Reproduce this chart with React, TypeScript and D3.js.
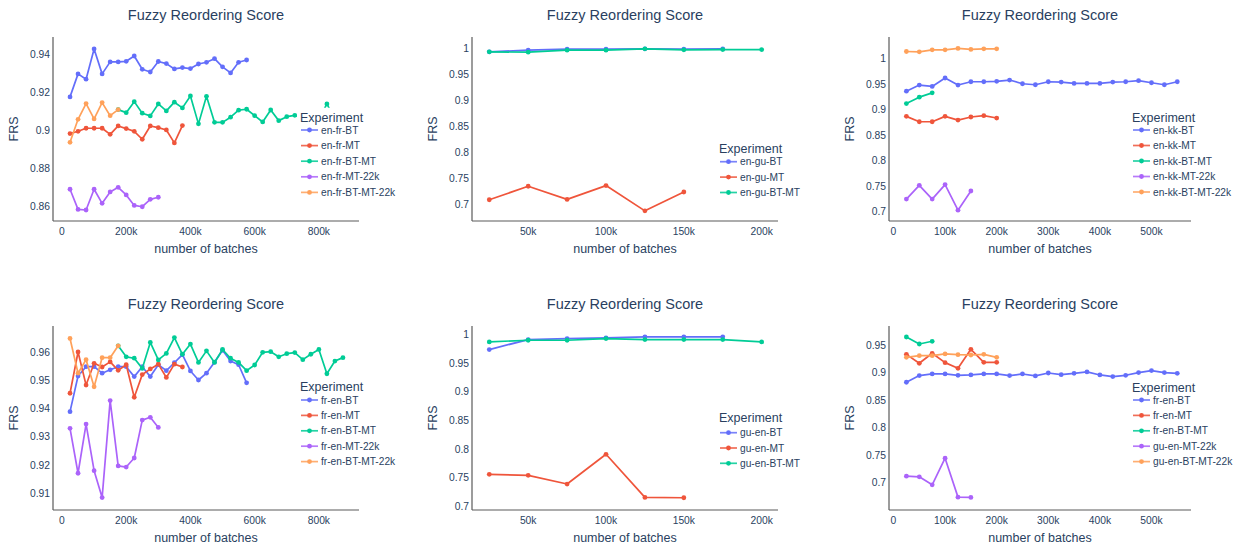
import React from "react";
import * as d3 from "d3";

// ---------- data ----------
const batches = [25000, 50000, 75000, 100000, 125000, 150000, 175000, 200000, 225000, 250000, 275000, 300000, 325000, 350000, 375000, 400000, 425000, 450000, 475000, 500000, 525000, 550000, 575000, 600000, 625000, 650000, 675000, 700000, 725000, 750000, 775000, 800000, 825000, 850000, 875000];

// panel 1 (en-fr)
const enFrBT = [0.9174, 0.9295, 0.9267, 0.9426, 0.9295, 0.9358, 0.9358, 0.9361, 0.9389, 0.9319, 0.9305, 0.936, 0.9349, 0.9321, 0.9328, 0.9323, 0.9347, 0.9356, 0.9375, 0.9332, 0.93, 0.9356, 0.9368];
const enFrMT = [0.8981, 0.8993, 0.9009, 0.9009, 0.9009, 0.8977, 0.9021, 0.9007, 0.8993, 0.8951, 0.9021, 0.9012, 0.9, 0.8932, 0.9023];
const enFrBTMT = [0.9107, 0.9091, 0.9149, 0.9088, 0.9074, 0.9137, 0.91, 0.9146, 0.9116, 0.9179, 0.9032, 0.9177, 0.904, 0.904, 0.9067, 0.9104, 0.9109, 0.9075, 0.9042, 0.9105, 0.9049, 0.907, 0.9077, 0.906, 0.9085, 0.9055, 0.9137, 0.9055, 0.908];
const enFrMT22k = [0.8688, 0.8582, 0.8579, 0.8688, 0.8614, 0.8674, 0.8698, 0.8658, 0.8603, 0.8596, 0.8635, 0.8646];
const enFrBTMT22k = [0.8935, 0.9056, 0.9139, 0.9058, 0.9144, 0.9075, 0.9107];

// panel 2 (en-gu)
const enGuBT = [0.9935, 0.9968, 0.9987, 0.9987, 0.9994, 0.9987, 0.9994];
const enGuMT = [0.7092, 0.7351, 0.7098, 0.7364, 0.6878, 0.7241];
const enGuBTMT = [0.9935, 0.9929, 0.9968, 0.9968, 0.9994, 0.9974, 0.998, 0.998];

// panel 3 (en-kk)
const enKkBT = [0.936, 0.948, 0.9453, 0.9618, 0.948, 0.9545, 0.9545, 0.9552, 0.9578, 0.9505, 0.9486, 0.9545, 0.9538, 0.9512, 0.9512, 0.9512, 0.9538, 0.9545, 0.9565, 0.9525, 0.9486, 0.9545];
const enKkMT = [0.8866, 0.876, 0.876, 0.8866, 0.8793, 0.8853, 0.8879, 0.8833];
const enKkBTMT = [0.9117, 0.9242, 0.9327];
const enKkMT22k = [0.7244, 0.7514, 0.7244, 0.7528, 0.7026, 0.7402];
const enKkBTMT22k = [1.0138, 1.0132, 1.0171, 1.0171, 1.0198, 1.0178, 1.0191, 1.0191];

// panel 4 (fr-en)
const frEnBT = [0.9389, 0.9515, 0.9548, 0.9548, 0.9525, 0.9537, 0.9548, 0.9548, 0.9513, 0.9548, 0.9513, 0.9555, 0.9534, 0.9562, 0.9591, 0.9533, 0.9501, 0.9525, 0.9564, 0.9606, 0.9568, 0.9555, 0.9491];
const frEnMT = [0.9454, 0.96, 0.9483, 0.956, 0.9547, 0.9565, 0.9535, 0.9555, 0.944, 0.952, 0.954, 0.9557, 0.951, 0.9557, 0.9547];
const frEnBTMT = [0.9622, 0.9583, 0.9578, 0.9542, 0.9634, 0.9572, 0.9595, 0.9651, 0.9592, 0.9628, 0.9563, 0.9604, 0.9563, 0.9609, 0.9578, 0.9563, 0.9534, 0.9554, 0.9599, 0.9601, 0.9583, 0.9594, 0.9598, 0.9573, 0.9592, 0.9609, 0.9523, 0.9568, 0.958];
const frEnMT22k = [0.933, 0.9171, 0.9345, 0.918, 0.9085, 0.9428, 0.9197, 0.9193, 0.9225, 0.9359, 0.9369, 0.9333];
const frEnBTMT22k = [0.9648, 0.9525, 0.9573, 0.9477, 0.958, 0.958, 0.9622];

// panel 5 (gu-en)
const guEnBT = [0.9737, 0.9912, 0.993, 0.9942, 0.9959, 0.9959, 0.9959];
const guEnMT = [0.7556, 0.7538, 0.7386, 0.7906, 0.7152, 0.7146];
const guEnBTMT = [0.9871, 0.99, 0.99, 0.993, 0.9912, 0.9912, 0.9912, 0.9871];

// panel 6 (mixed)
const frEnBT6 = [0.8822, 0.8943, 0.8973, 0.8973, 0.8949, 0.8955, 0.8973, 0.8973, 0.8943, 0.8973, 0.8937, 0.8991, 0.8961, 0.8985, 0.901, 0.8955, 0.8925, 0.8949, 0.8998, 0.9034, 0.8998, 0.8985];
const frEnMT6 = [0.933, 0.9167, 0.9349, 0.9179, 0.9076, 0.9421, 0.9185, 0.9185];
const frEnBTMT6 = [0.9645, 0.9518, 0.9567];
const guEnMT22k = [0.7115, 0.7103, 0.6958, 0.7442, 0.6734, 0.6728];
const guEnBTMT22k = [0.9276, 0.9306, 0.9306, 0.9337, 0.9324, 0.9318, 0.933, 0.9276];

// tick values
const yTicksA = [0.86, 0.88, 0.9, 0.92, 0.94];
const yTicksB = [0.7, 0.75, 0.8, 0.85, 0.9, 0.95, 1];
const yTicksD = [0.91, 0.92, 0.93, 0.94, 0.95, 0.96];
const yTicksF = [0.7, 0.75, 0.8, 0.85, 0.9, 0.95];
const xTicksA = [0, 200000, 400000, 600000, 800000];
const xTicksB = [50000, 100000, 150000, 200000];
const xTicksC = [0, 100000, 200000, 300000, 400000, 500000];

const COLORS = ["#636efa", "#ef553b", "#00cc96", "#ab63fa", "#ffa15a"];

type Series = { name: string; start: number; values: number[]; color: string };

const mk = (name: string, values: number[], color: string, start = 0): Series => ({ name, values, color, start });

const panels = [
  {
    left: 53, right: 359, top: 37, bottom: 221,
    xDom: [-28000, 925000], yDom: [0.8521, 0.9489], xTicks: xTicksA, yTicks: yTicksA,
    leg: { x: 301, title: 117.7, item0: 130, step: 15.6 },
    series: [
      mk("en-fr-BT", enFrBT, COLORS[0]),
      mk("en-fr-MT", enFrMT, COLORS[1]),
      mk("en-fr-BT-MT", enFrBTMT, COLORS[2], 6),
      mk("en-fr-MT-22k", enFrMT22k, COLORS[3]),
      mk("en-fr-BT-MT-22k", enFrBTMT22k, COLORS[4]),
    ],
  },
  {
    left: 472, right: 778, top: 37, bottom: 221,
    xDom: [13900, 210500], yDom: [0.6683, 1.0221], xTicks: xTicksB, yTicks: yTicksB,
    leg: { x: 720, title: 148.3, item0: 161.7, step: 15.4 },
    series: [
      mk("en-gu-BT", enGuBT, COLORS[0]),
      mk("en-gu-MT", enGuMT, COLORS[1]),
      mk("en-gu-BT-MT", enGuBTMT, COLORS[2]),
    ],
  },
  {
    left: 889, right: 1191, top: 37, bottom: 221,
    xDom: [-8700, 576600], yDom: [0.6814, 1.0422], xTicks: xTicksC, yTicks: yTicksB,
    leg: { x: 1133, title: 118, item0: 130, step: 15.5 },
    series: [
      mk("en-kk-BT", enKkBT, COLORS[0]),
      mk("en-kk-MT", enKkMT, COLORS[1]),
      mk("en-kk-BT-MT", enKkBTMT, COLORS[2]),
      mk("en-kk-MT-22k", enKkMT22k, COLORS[3]),
      mk("en-kk-BT-MT-22k", enKkBTMT22k, COLORS[4]),
    ],
  },
  {
    left: 53, right: 359, top: 326, bottom: 510,
    xDom: [-28000, 925000], yDom: [0.9041, 0.9692], xTicks: xTicksA, yTicks: yTicksD,
    leg: { x: 301, title: 387, item0: 400, step: 15.4 },
    series: [
      mk("fr-en-BT", frEnBT, COLORS[0]),
      mk("fr-en-MT", frEnMT, COLORS[1]),
      mk("fr-en-BT-MT", frEnBTMT, COLORS[2], 6),
      mk("fr-en-MT-22k", frEnMT22k, COLORS[3]),
      mk("fr-en-BT-MT-22k", frEnBTMT22k, COLORS[4]),
    ],
  },
  {
    left: 472, right: 778, top: 326, bottom: 510,
    xDom: [13900, 210500], yDom: [0.6932, 1.0149], xTicks: xTicksB, yTicks: yTicksB,
    leg: { x: 720, title: 417.7, item0: 432.7, step: 15.3 },
    series: [
      mk("gu-en-BT", guEnBT, COLORS[0]),
      mk("gu-en-MT", guEnMT, COLORS[1]),
      mk("gu-en-BT-MT", guEnBTMT, COLORS[2]),
    ],
  },
  {
    left: 889, right: 1191, top: 326, bottom: 510,
    xDom: [-8700, 576600], yDom: [0.65, 0.9845], xTicks: xTicksC, yTicks: yTicksF,
    leg: { x: 1133, title: 387.7, item0: 400, step: 15.4 },
    series: [
      mk("fr-en-BT", frEnBT6, COLORS[0]),
      mk("fr-en-MT", frEnMT6, COLORS[1]),
      mk("fr-en-BT-MT", frEnBTMT6, COLORS[2]),
      mk("gu-en-MT-22k", guEnMT22k, COLORS[3]),
      mk("gu-en-BT-MT-22k", guEnBTMT22k, COLORS[4]),
    ],
  },
];

const FONT = '"Liberation Sans", Arial, sans-serif';
const TXT = "#2a3f5f";
const fmtX = (v: number) => (v === 0 ? "0" : `${v / 1000}k`);
const fmtY = (v: number) => d3.format("~g")(v);

function Panel({ p }: { p: (typeof panels)[number] }) {
  const x = d3.scaleLinear().domain(p.xDom).range([p.left, p.right]);
  const y = d3.scaleLinear().domain(p.yDom).range([p.bottom, p.top]);
  const line = d3
    .line<[number, number]>()
    .x((d) => x(d[0]))
    .y((d) => y(d[1]));
  const cx = (p.left + p.right) / 2;
  const cy = (p.top + p.bottom) / 2;
  const L = p.leg;
  const n = p.series.length;
  return (
    <g>
      <text x={cx} y={p.top - 17} textAnchor="middle" fontSize={14.5} fill={TXT} fontFamily={FONT}>
        Fuzzy Reordering Score
      </text>
      {p.yTicks.map((t) => (
        <text key={"y" + t} x={p.left - 3} y={y(t)} dy="0.35em" textAnchor="end" fontSize={10.3} fill={TXT} fontFamily={FONT}>
          {fmtY(t)}
        </text>
      ))}
      {p.xTicks.map((t) => (
        <text key={"x" + t} x={x(t)} y={p.bottom + 14} textAnchor="middle" fontSize={10.3} fill={TXT} fontFamily={FONT}>
          {fmtX(t)}
        </text>
      ))}
      <text x={cx} y={p.bottom + 32} textAnchor="middle" fontSize={12.5} fill={TXT} fontFamily={FONT}>
        number of batches
      </text>
      <text
        transform={`translate(${p.left - 39},${cy}) rotate(-90)`}
        textAnchor="middle"
        dy="0.35em"
        fontSize={12.5}
        fill={TXT}
        fontFamily={FONT}
      >
        FRS
      </text>
      <line x1={p.left} x2={p.left} y1={p.top} y2={p.bottom} stroke="#5a5a5a" strokeWidth={1.2} />
      <line x1={p.left} x2={p.right} y1={p.bottom} y2={p.bottom} stroke="#5a5a5a" strokeWidth={1.2} />
      {p.series.map((s) => {
        const pts: [number, number][] = s.values.map((v, i) => [batches[s.start + i], v]);
        return (
          <g key={s.name}>
            <path d={line(pts) || ""} fill="none" stroke={s.color} strokeWidth={1.7} strokeLinejoin="round" />
            {pts.map((d, i) => (
              <circle key={i} cx={x(d[0])} cy={y(d[1])} r={2.4} fill={s.color} />
            ))}
          </g>
        );
      })}
      <rect
        x={L.x - 4}
        y={L.title - 10}
        width={108}
        height={L.item0 - L.title + (n - 1) * L.step + 18}
        fill="#fff"
      />
      <text x={L.x - 1} y={L.title} dy="0.35em" fontSize={12.5} fill={TXT} fontFamily={FONT}>
        Experiment
      </text>
      {p.series.map((s, i) => {
        const yy = L.item0 + i * L.step;
        return (
          <g key={"l" + s.name}>
            <line x1={L.x} x2={L.x + 17} y1={yy} y2={yy} stroke={s.color} strokeWidth={1.7} opacity={0.85} />
            <circle cx={L.x + 8.5} cy={yy} r={2.4} fill={s.color} />
            <text x={L.x + 20} y={yy} dy="0.35em" fontSize={10.2} fill={TXT} fontFamily={FONT}>
              {s.name}
            </text>
          </g>
        );
      })}
    </g>
  );
}

export default function App() {
  return (
    <svg
      width={1242}
      height={546}
      viewBox="0 0 1242 546"
      style={{ position: "absolute", left: 0, top: 0, background: "#fff" }}
    >
      <rect width={1242} height={546} fill="#fff" />
      {panels.map((p, i) => (
        <Panel key={i} p={p} />
      ))}
    </svg>
  );
}
